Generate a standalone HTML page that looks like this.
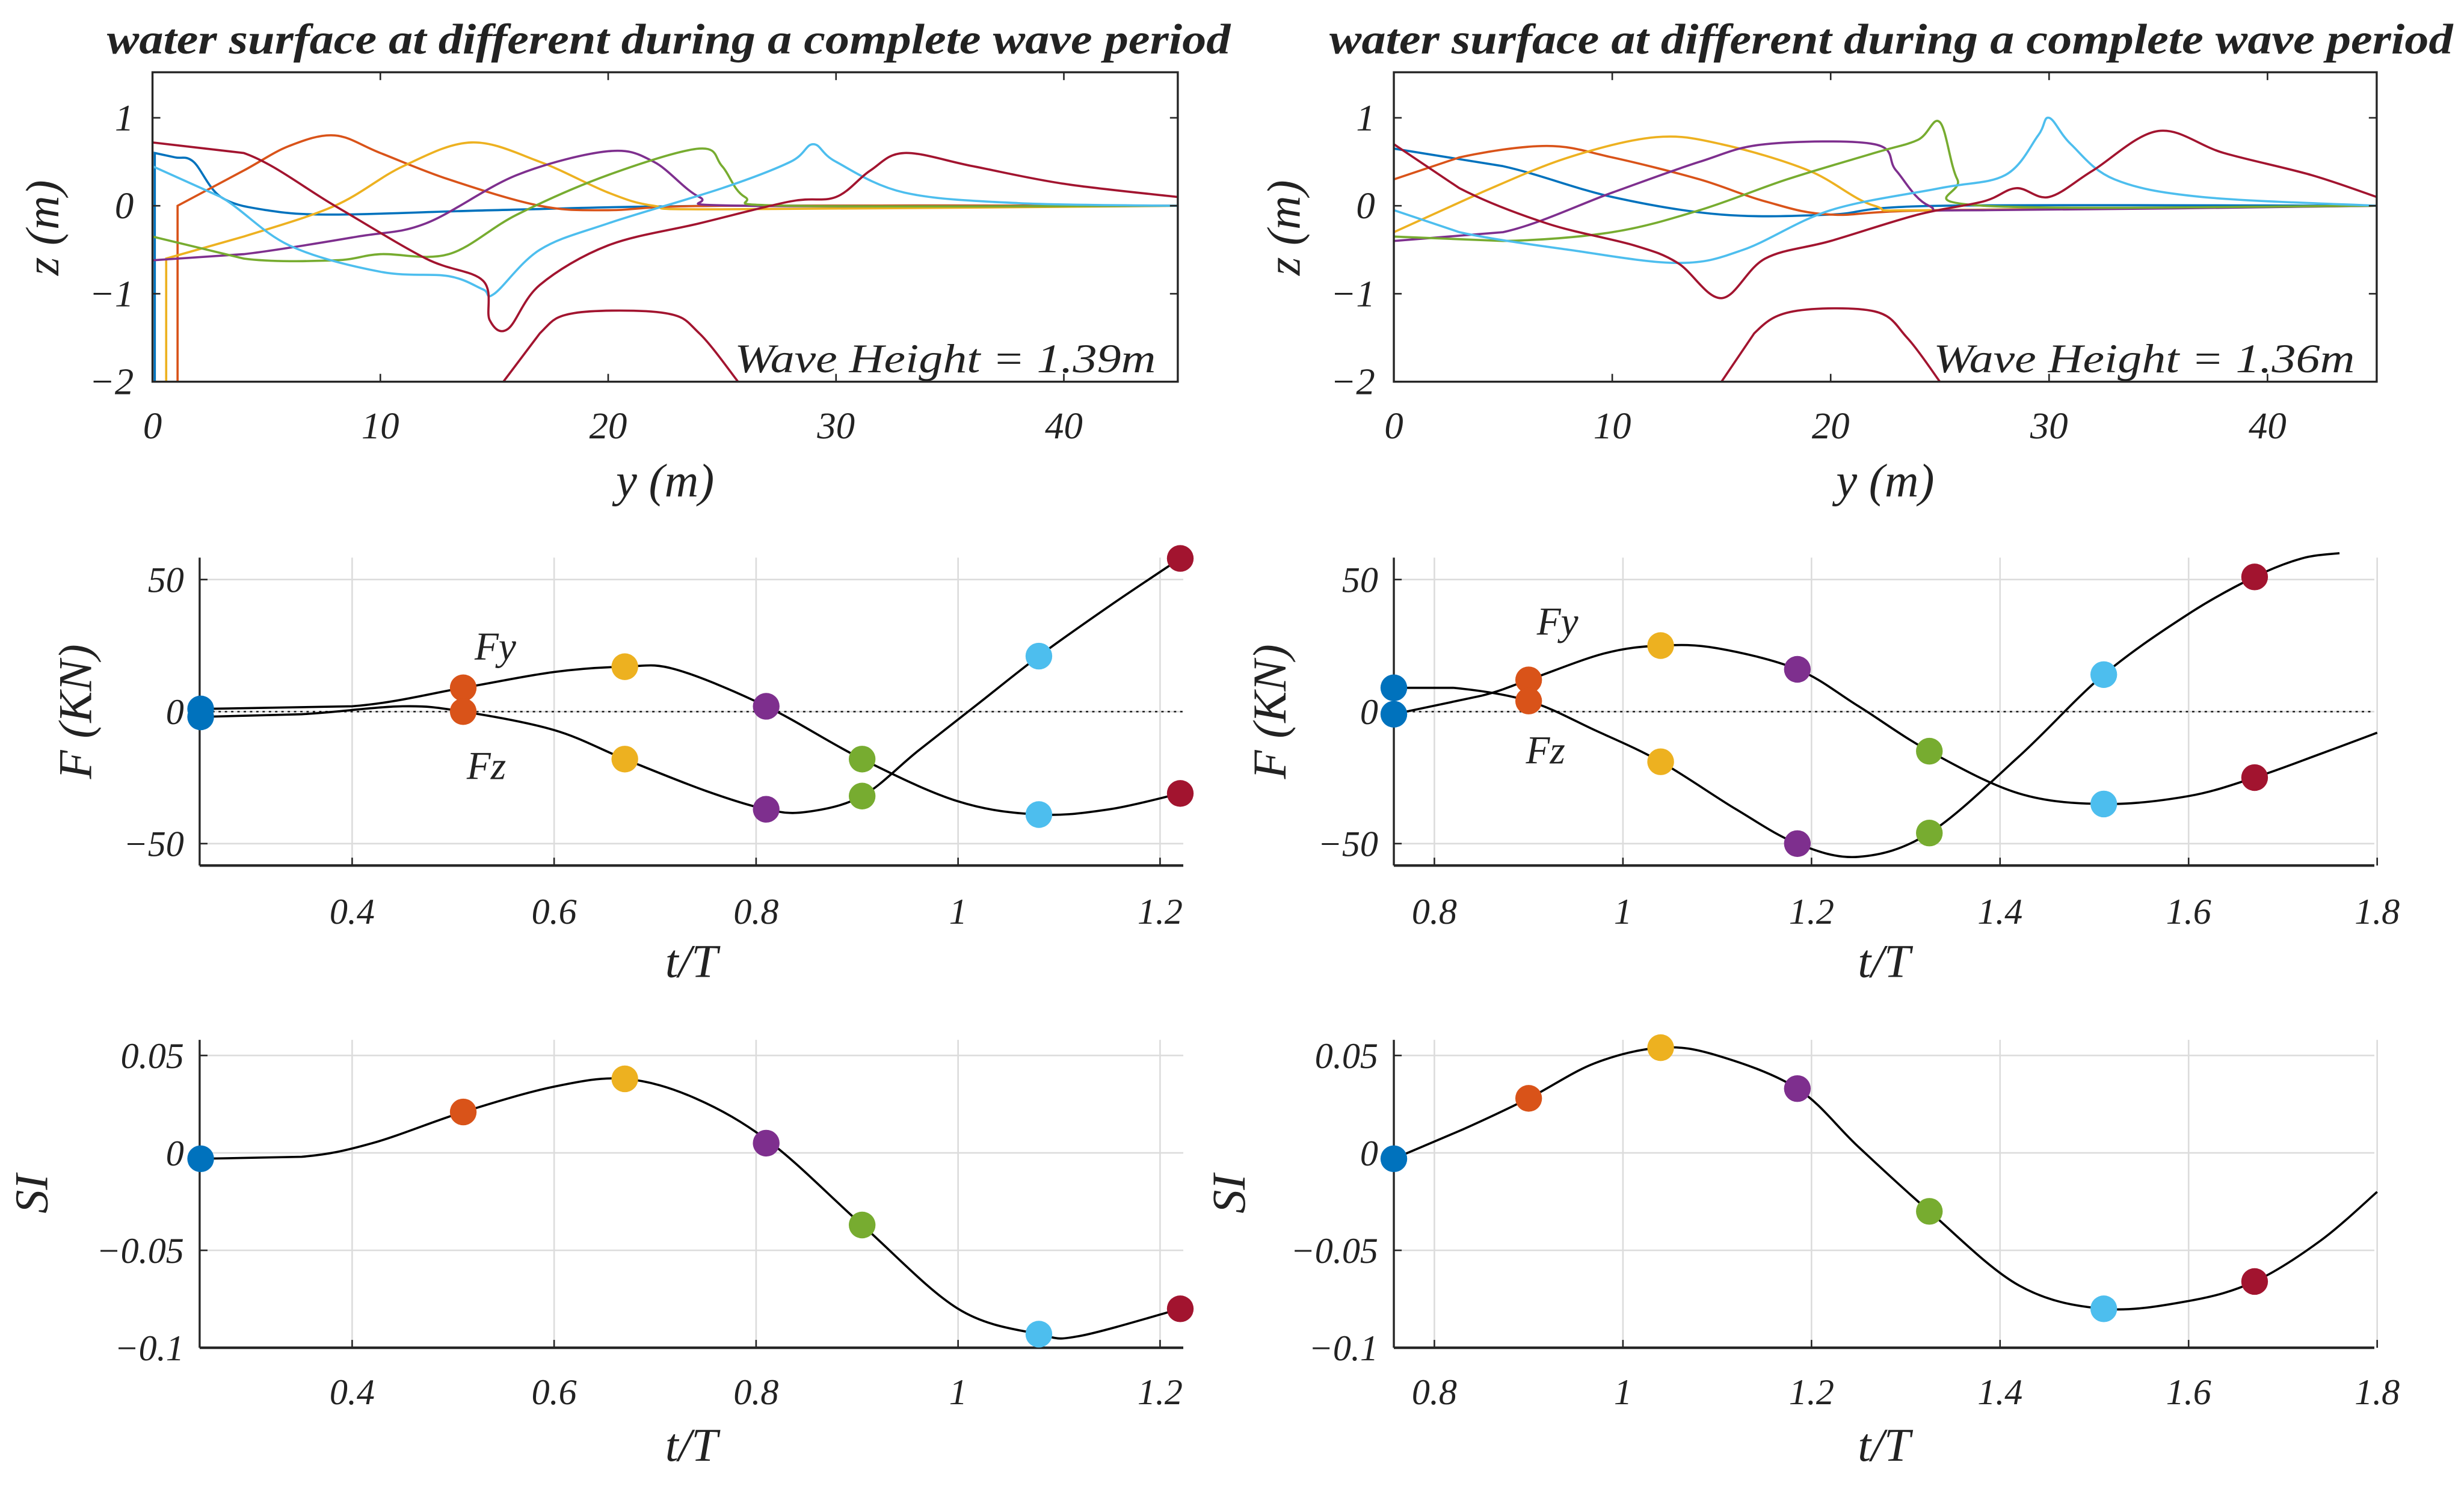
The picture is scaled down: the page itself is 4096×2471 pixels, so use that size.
<!DOCTYPE html>
<html><head><meta charset="utf-8"><style>
html,body{margin:0;padding:0;background:#fff;}
svg{display:block;}
text{font-family:"Liberation Serif",serif;font-style:italic;fill:#222;}
</style></head><body>
<svg id="fig" width="4096" height="2471" viewBox="0 0 1568 946" xmlns="http://www.w3.org/2000/svg"></svg>
<script>
// ---------- data ----------
const colors = ['#0072BD','#D95319','#EDB120','#7E2F8E','#77AC30','#4DBEEE','#A2142F'];
const seriesNames = ['blue','orange','yellow','purple','green','cyan','red'];
const ws1Blue = [[0.1,-2],[0.1,0.6],[1,0.55],[1.8,0.5],[3,0.1],[5,-0.05],[8,-0.1],[15,-0.05],[25,0],[45,0]];
const ws1Orange = [[1.1,-2],[1.1,0],[4,0.4],[6,0.68],[8,0.8],[10,0.6],[13,0.3],[17,0],[20,-0.05],[25,0],[45,0]];
const ws1Yellow = [[0.6,-2],[0.6,-0.6],[4,-0.35],[8,0],[11,0.45],[14,0.72],[17,0.5],[20,0.15],[22,0],[25,-0.04],[45,0]];
const ws1Purple = [[0,-0.62],[4,-0.55],[9,-0.35],[12,-0.2],[16,0.35],[20,0.62],[22,0.5],[24,0.1],[26,0],[45,0]];
const ws1Green = [[0,-0.35],[4,-0.6],[8,-0.62],[10,-0.55],[13,-0.55],[16,-0.1],[20,0.35],[24,0.65],[25,0.45],[26,0.1],[28,0],[45,0]];
const ws1Cyan = [[0,0.45],[3,0.1],[6,-0.45],[10,-0.75],[13,-0.8],[14.5,-0.95],[15,-1],[17,-0.5],[20,-0.2],[25,0.2],[28,0.5],[29,0.7],[30,0.5],[33,0.15],[38,0.03],[45,0]];
const ws1Red = [[0,0.72],[4,0.6],[8,0],[12,-0.6],[14.5,-0.85],[14.8,-1.3],[15.6,-1.4],[17,-0.9],[20,-0.45],[24,-0.2],[28,0.05],[30,0.1],[31.5,0.4],[33,0.6],[36,0.45],[40,0.25],[45,0.1]];
const ws1Struct = [[15.4,-2],[17,-1.45],[18.5,-1.22],[22.5,-1.22],[24,-1.45],[25.7,-2]];
const ws2Blue = [[0,0.65],[5,0.45],[10,0.1],[15,-0.1],[20,-0.1],[25,0],[45,0]];
const ws2Orange = [[0,0.3],[3,0.55],[7,0.68],[10,0.55],[14,0.3],[17,0.05],[20,-0.1],[25,-0.05],[45,0]];
const ws2Yellow = [[0,-0.3],[4,0.15],[8,0.55],[12,0.78],[15,0.7],[19,0.4],[22,0],[25,-0.05],[45,0]];
const ws2Purple = [[0,-0.4],[5,-0.3],[10,0.15],[14,0.5],[17,0.7],[22,0.7],[23,0.4],[24.5,0],[27,-0.05],[45,0]];
const ws2Green = [[0,-0.35],[5,-0.4],[10,-0.3],[14,-0.05],[18,0.3],[22,0.6],[24,0.75],[25,0.95],[25.8,0.3],[27,0],[45,0]];
const ws2Cyan = [[0,-0.05],[3,-0.3],[8,-0.5],[13,-0.65],[16,-0.5],[20,-0.05],[25,0.2],[28,0.35],[29.5,0.8],[30,1],[31,0.7],[33,0.3],[37,0.1],[45,0]];
const ws2Red = [[0,0.7],[3,0.2],[7,-0.2],[11,-0.45],[13,-0.65],[15,-1.05],[17,-0.6],[20,-0.4],[24,-0.1],[27,0.05],[28.5,0.2],[30,0.1],[32,0.4],[35,0.85],[38,0.6],[42,0.35],[45,0.1]];
const ws2Struct = [[15,-2],[16.5,-1.45],[18.3,-1.2],[22,-1.2],[23.5,-1.5],[25,-2]];
const t1 = [0.25,0.51,0.67,0.81,0.905,1.08,1.22];
const fy1 = [1,9,17,2,-18,-39,-31];
const fz1 = [-2,0,-18,-37,-32,21,58];
const fy1Curve = [[0.25,1],[0.4,2],[0.51,9],[0.6,15],[0.67,17],[0.72,16],[0.81,2],[0.905,-18],[1.0,-34],[1.08,-39],[1.15,-37],[1.22,-31]];
const fz1Curve = [[0.25,-2],[0.35,-1],[0.45,2],[0.51,0],[0.6,-7],[0.67,-18],[0.75,-30],[0.81,-37],[0.85,-38],[0.905,-32],[0.96,-15],[1.02,3],[1.08,21],[1.15,40],[1.22,58]];
const t2 = [0.757,0.9,1.04,1.185,1.325,1.51,1.67];
const fy2 = [-1,12,25,16,-15,-35,-25];
const fz2 = [9,4,-19,-50,-46,14,51];
const fy2Curve = [[0.757,-1],[0.85,6],[0.9,12],[0.98,22],[1.04,25],[1.1,24],[1.185,16],[1.25,2],[1.325,-15],[1.42,-31],[1.51,-35],[1.6,-32],[1.67,-25],[1.74,-16],[1.8,-8]];
const fz2Curve = [[0.757,9],[0.82,9],[0.9,4],[0.97,-7],[1.04,-19],[1.12,-37],[1.185,-50],[1.25,-55],[1.325,-46],[1.42,-17],[1.51,14],[1.6,37],[1.67,51],[1.72,58],[1.76,60]];
const si1 = [-0.003,0.021,0.038,0.005,-0.037,-0.093,-0.080];
const si1Curve = [[0.25,-0.003],[0.35,-0.002],[0.42,0.005],[0.51,0.021],[0.6,0.034],[0.67,0.038],[0.74,0.028],[0.815,0.005],[0.905,-0.037],[1.0,-0.08],[1.08,-0.093],[1.12,-0.094],[1.22,-0.080]];
const si2 = [-0.003,0.028,0.054,0.033,-0.030,-0.080,-0.066];
const si2Curve = [[0.757,-0.003],[0.83,0.012],[0.9,0.028],[0.97,0.046],[1.04,0.054],[1.1,0.05],[1.185,0.033],[1.25,0.003],[1.325,-0.030],[1.42,-0.068],[1.51,-0.080],[1.6,-0.076],[1.67,-0.066],[1.74,-0.045],[1.8,-0.02]];
const wsXTicks = [0,10,20,30,40];
const wsYTicks = [1,0,-1,-2];
const fTicks1 = [0.4,0.6,0.8,1,1.2];
const fTicks2 = [0.8,1,1.2,1.4,1.6,1.8];
const fYTicks = [50,0,-50];
const siYTicks = [0.05,0,-0.05,-0.1];

// ---------- helpers ----------
const NS='http://www.w3.org/2000/svg';
const svg=document.getElementById('fig');
function el(tag,attrs,parent){const e=document.createElementNS(NS,tag);for(const k in attrs)e.setAttribute(k,attrs[k]);(parent||svg).appendChild(e);return e;}
function fmt(v){return String(v).replace('-','\u2212');}
function scale(d0,d1,r0,r1){return v=>r0+(v-d0)*(r1-r0)/(d1-d0);}
function smoothPath(pts,sx,sy){
  const p=pts.map(q=>[sx(q[0]),sy(q[1])]);
  let d='M'+p[0][0].toFixed(2)+','+p[0][1].toFixed(2);
  for(let i=0;i<p.length-1;i++){
    const p0=p[i-1]||p[i],p1=p[i],p2=p[i+1],p3=p[i+2]||p2;
    if(Math.abs(p2[0]-p1[0])<0.5||Math.abs(p1[0]-p0[0])<0.5){d+='L'+p2[0].toFixed(2)+','+p2[1].toFixed(2);continue;}
    const c1=[p1[0]+(p2[0]-p0[0])/6,p1[1]+(p2[1]-p0[1])/6];
    const c2=[p2[0]-(p3[0]-p1[0])/6,p2[1]-(p3[1]-p1[1])/6];
    d+='C'+c1[0].toFixed(2)+','+c1[1].toFixed(2)+' '+c2[0].toFixed(2)+','+c2[1].toFixed(2)+' '+p2[0].toFixed(2)+','+p2[1].toFixed(2);
  }
  return d;
}

function wsPanel(id,x0,x1,title,titleX,series,struct,hLabel){
  const y0=46,y1=243;
  const sx=scale(0,45,x0,x1), sy=scale(1,-2,75,243);
  const g=el('g',{});  
  const clip=el('clipPath',{id:id+'-clip'},g); el('rect',{x:x0,y:y0,width:x1-x0,height:y1-y0},clip);
  const t=el('text',{x:titleX,y:34,'font-size':27,'font-weight':'bold',textLength:715,lengthAdjust:'spacingAndGlyphs'},g); t.textContent=title;
   
  const lines=el('g',{'clip-path':'url(#'+id+'-clip)'},g);
  series.forEach((s,i)=>{
    const p=el('path',{d:smoothPath(s,sx,sy),fill:'none',stroke:colors[i],'stroke-width':1.4},lines);
     
  });
  const st=el('path',{d:smoothPath(struct,sx,sy),fill:'none',stroke:colors[6],'stroke-width':1.4},lines);
   
  el('rect',{x:x0,y:y0,width:x1-x0,height:y1-y0,fill:'none',stroke:'#262626','stroke-width':1.3},g);
  wsXTicks.forEach(v=>{const x=sx(v);
    el('line',{x1:x,x2:x,y1:y1,y2:y1-5,stroke:'#262626'},g); el('line',{x1:x,x2:x,y1:y0,y2:y0+5,stroke:'#262626'},g);
    const tx=el('text',{x:x,y:279,'font-size':24,'text-anchor':'middle'},g); tx.textContent=fmt(v);
     });
  wsYTicks.forEach(v=>{const y=sy(v);
    el('line',{x1:x0,x2:x0+5,y1:y,y2:y,stroke:'#262626'},g); el('line',{x1:x1,x2:x1-5,y1:y,y2:y,stroke:'#262626'},g);
    const tx=el('text',{x:x0-12,y:y+8,'font-size':24,'text-anchor':'end'},g); tx.textContent=fmt(v);
     });
  const xl=el('text',{x:(x0+x1)/2,y:316,'font-size':30,'text-anchor':'middle'},g); xl.textContent='y (m)';
   
  const yl=el('text',{x:0,y:0,'font-size':30,'text-anchor':'middle',transform:'translate('+(x0-60)+',145) rotate(-90)'},g); yl.textContent='z (m)';
   
  const hl=el('text',{x:x1-282,y:237,'font-size':26,textLength:268,lengthAdjust:'spacingAndGlyphs'},g); hl.textContent=hLabel;
   
}

function linePanel(id,x0,x1,y0,y1,xd,yd,xTicks,yTicks,curves,markers,ylab,ylabX,xlabY,tickY){
  const sx=scale(xd[0],xd[1],x0,x1), sy=scale(yd[0],yd[1],y1,y0);
  const g=el('g',{});  
  xTicks.forEach(v=>{const x=sx(v);
    el('line',{x1:x,x2:x,y1:y0,y2:y1,stroke:'#dcdcdc','stroke-width':1},g);
    el('line',{x1:x,x2:x,y1:y1,y2:y1-5,stroke:'#262626'},g);
    const tx=el('text',{x:x,y:tickY,'font-size':23,'text-anchor':'middle'},g); tx.textContent=fmt(v);
     });
  yTicks.forEach(v=>{const y=sy(v);
    el('line',{x1:x0,x2:x1,y1:y,y2:y,stroke:'#dcdcdc','stroke-width':1},g);
    el('line',{x1:x0,x2:x0+5,y1:y,y2:y,stroke:'#262626'},g);
    const tx=el('text',{x:x0-10,y:y+8,'font-size':23,'text-anchor':'end'},g); tx.textContent=fmt(v);
     });
  if(yd[0]<0&&yd[1]>0&&ylab.indexOf('F')===0){
    const z=el('line',{x1:x0,x2:x1,y1:sy(0),y2:sy(0),stroke:'#222','stroke-dasharray':'1.5,2.5','stroke-width':1},g);
     }
  el('line',{x1:x0,x2:x0,y1:y0,y2:y1,stroke:'#262626','stroke-width':1.3},g);
  el('line',{x1:x0,x2:x1,y1:y1,y2:y1,stroke:'#262626','stroke-width':1.6},g);
  const clip=el('clipPath',{id:id+'-clip'},g); el('rect',{x:x0-10,y:y0-12,width:x1-x0+20,height:y1-y0+12},clip);
  curves.forEach(c=>{const p=el('path',{d:smoothPath(c.pts,sx,sy),fill:'none',stroke:'#000','stroke-width':1.4,'clip-path':'url(#'+id+'-clip)'},g);
     });
  markers.forEach(m=>{m.vals.forEach((v,i)=>{
    const c=el('circle',{cx:sx(m.t[i]),cy:sy(v),r:8.5,fill:colors[i]},g);
     });});
  const xl=el('text',{x:(x0+x1)/2,y:xlabY,'font-size':30,'text-anchor':'middle'},g); xl.textContent='t/T';
   
  const yl=el('text',{x:0,y:0,'font-size':30,'text-anchor':'middle',transform:'translate('+ylabX+','+((y0+y1)/2)+') rotate(-90)'},g); yl.textContent=ylab;
   
  return g;
}

// ---------- build ----------
wsPanel('surface-panel-left',97,749.5,'water surface at different during a complete wave period',68,
  [ws1Blue,ws1Orange,ws1Yellow,ws1Purple,ws1Green,ws1Cyan,ws1Red],ws1Struct,'Wave Height = 1.39m');
wsPanel('surface-panel-right',887,1512.5,'water surface at different during a complete wave period',846,
  [ws2Blue,ws2Orange,ws2Yellow,ws2Purple,ws2Green,ws2Cyan,ws2Red],ws2Struct,'Wave Height = 1.36m');

const gF1=linePanel('force-panel-left',127,753,355,551,[0.249,1.223],[-58.3,58.3],fTicks1,fYTicks,
  [{name:'fy-curve',pts:fy1Curve},{name:'fz-curve',pts:fz1Curve}],
  [{name:'fy',t:t1,vals:fy1},{name:'fz',t:t1,vals:fz1}],'F (KN)',58,622,588);
const gF2=linePanel('force-panel-right',887,1511,355,551,[0.757,1.797],[-58.3,58.3],fTicks2,fYTicks,
  [{name:'fy-curve',pts:fy2Curve},{name:'fz-curve',pts:fz2Curve}],
  [{name:'fy',t:t2,vals:fy2},{name:'fz',t:t2,vals:fz2}],'F (KN)',818,622,588);
[[gF1,302,420,'Fy'],[gF1,297,496,'Fz'],[gF2,978,404,'Fy'],[gF2,971,486,'Fz']].forEach(a=>{
  const t=el('text',{x:a[1],y:a[2],'font-size':25},a[0]); t.textContent=a[3];
   });

linePanel('si-panel-left',127,753,662,858,[0.249,1.223],[-0.1,0.058],fTicks1,siYTicks,
  [{name:'si-curve',pts:si1Curve}],[{name:'si',t:t1,vals:si1}],'SI',30,930,894);
linePanel('si-panel-right',887,1511,662,858,[0.757,1.797],[-0.1,0.058],fTicks2,siYTicks,
  [{name:'si-curve',pts:si2Curve}],[{name:'si',t:t2,vals:si2}],'SI',792,930,894);
</script>
</body></html>
